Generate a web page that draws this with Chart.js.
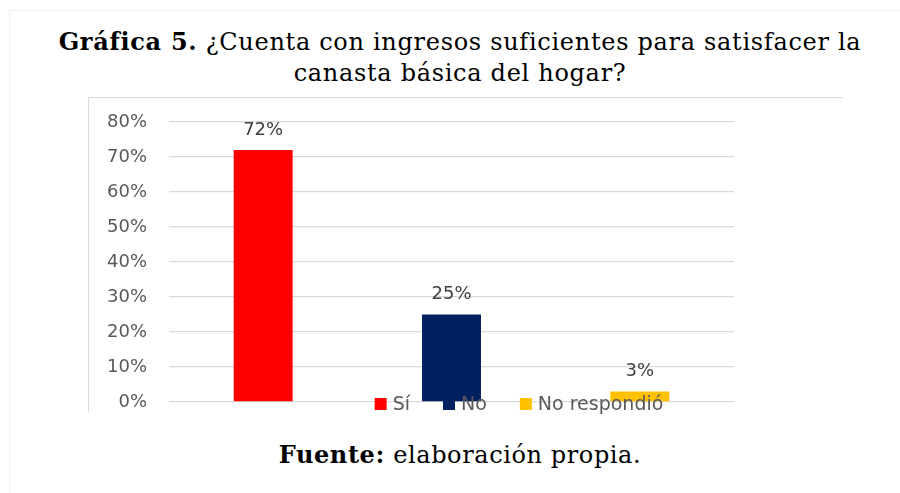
<!DOCTYPE html>
<html>
<head>
<meta charset="utf-8">
<script src="https://cdn.jsdelivr.net/npm/chart.js@4"></script>
<style>
  html, body { margin:0; padding:0; background:#fff; }
  #page { position:relative; width:900px; height:493px; overflow:hidden; background:#fff; }
  #outer { position:absolute; left:9px; top:10px; right:0; bottom:0; border-left:1px solid #f0f0f0; border-top:1px solid #f0f0f0; }
  #box { position:absolute; left:88px; top:97px; width:755px; height:315px; border-left:1.5px solid #d9d9d9; border-top:1.5px solid #d9d9d9; box-sizing:border-box; }
  #title { position:absolute; left:0; width:920px; top:26px; text-align:center; font-family:"DejaVu Serif", serif; font-size:24px; letter-spacing:0.7px; line-height:31px; color:#000; white-space:nowrap; }
  #foot { position:absolute; left:0; width:920px; top:439px; text-align:center; font-family:"DejaVu Serif", serif; font-size:24px; letter-spacing:0.6px; line-height:31px; color:#000; white-space:nowrap; }
  canvas { position:absolute; left:0; top:0; }
</style>
</head>
<body>
<div id="page">
  <div id="outer"></div>
  <div id="box"></div>
  <div id="title"><b>Gráfica 5.</b> ¿Cuenta con ingresos suficientes para satisfacer la<br>canasta básica del hogar?</div>
  <div id="foot"><b>Fuente:</b> elaboración propia.</div>
  <canvas id="c" width="900" height="493"></canvas>
</div>
<script>
const categories = ['Sí', 'No', 'No respondió'];
const values = [72, 25, 3];
const yTickValues = [0, 10, 20, 30, 40, 50, 60, 70, 80];
const barColors = ['#ff0000', '#002060', '#ffc000'];

const valueLabels = {
  id: 'valueLabels',
  afterDatasetsDraw(chart) {
    const ctx = chart.ctx;
    const meta = chart.getDatasetMeta(0);
    ctx.save();
    ctx.font = '18px "DejaVu Sans"';
    ctx.fillStyle = '#404040';
    ctx.textAlign = 'center';
    ctx.textBaseline = 'middle';
    meta.data.forEach((bar, i) => {
      ctx.fillText(chart.data.datasets[0].data[i] + '%', bar.x, bar.y - 20);
    });
    ctx.restore();
  }
};

const customLegend = {
  id: 'customLegend',
  afterDraw(chart) {
    const ctx = chart.ctx;
    const labels = chart.data.labels;
    const cols = chart.data.datasets[0].backgroundColor;
    ctx.save();
    ctx.font = '19px "DejaVu Sans"';
    ctx.textBaseline = 'middle';
    ctx.textAlign = 'left';
    const box = 12, gap = 6, itemGap = 33;
    let total = 0;
    const widths = labels.map(l => ctx.measureText(l).width);
    widths.forEach((w, i) => { total += box + gap + w + (i < labels.length - 1 ? itemGap : 0); });
    const centerX = 519, cy = chart.chartArea.bottom + 2;
    let x = centerX - total / 2;
    labels.forEach((l, i) => {
      ctx.fillStyle = cols[i];
      ctx.fillRect(x, cy - box / 2, box, box);
      ctx.fillStyle = '#595959';
      ctx.fillText(l, x + box + gap, cy + 1);
      x += box + gap + widths[i] + itemGap;
    });
    ctx.restore();
  }
};

new Chart(document.getElementById('c'), {
  type: 'bar',
  data: {
    labels: categories,
    datasets: [{
      data: values,
      backgroundColor: barColors,
      borderWidth: 0,
      categoryPercentage: 1,
      barPercentage: 0.313
    }]
  },
  options: {
    responsive: false,
    animation: false,
    layout: { padding: { left: 0, top: 122, right: 166, bottom: 91 } },
    plugins: { legend: { display: false }, tooltip: { enabled: false }, title: { display: false } },
    scales: {
      x: { display: false },
      y: {
        min: 0, max: 80,
        afterBuildTicks(scale) { scale.ticks = yTickValues.map(v => ({ value: v })); },
        afterFit(scale) { scale.width = 169; },
        border: { display: false },
        grid: { color: '#d9d9d9', lineWidth: 1.3, drawTicks: false },
        ticks: {
          padding: 22,
          color: '#595959',
          font: { family: 'DejaVu Sans', size: 18 },
          callback: v => v + '%'
        }
      }
    }
  },
  plugins: [valueLabels, customLegend]
});
</script>
</body>
</html>
